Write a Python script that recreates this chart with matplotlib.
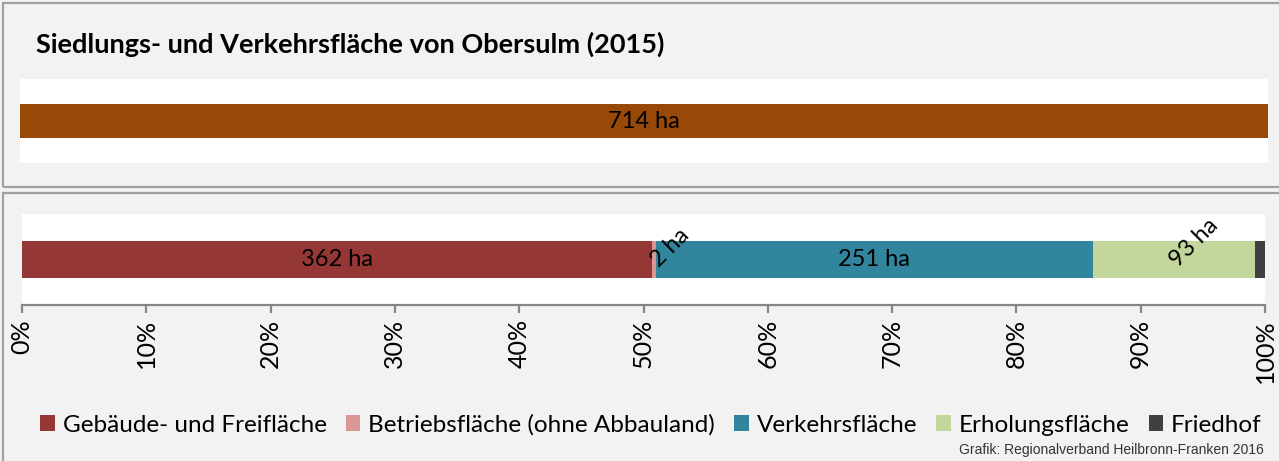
import matplotlib
matplotlib.use("Agg")
import matplotlib.pyplot as plt
from matplotlib.patches import Rectangle, Patch
import numpy as np

plt.rcParams['font.family'] = ['Lato', 'DejaVu Sans']

title = "Siedlungs- und Verkehrsfläche von Obersulm (2015)"
total_ha = 714
categories = ["Gebäude- und Freifläche", "Betriebsfläche (ohne Abbauland)",
              "Verkehrsfläche", "Erholungsfläche", "Friedhof"]
values_ha = [362, 2, 251, 93, 6]
colors = ["#953735", "#D99694", "#31859C", "#C3D69B", "#404040"]
label_shown = [True, True, True, True, False]
label_rotated = [False, True, False, True, False]
tick_values = [0, 10, 20, 30, 40, 50, 60, 70, 80, 90, 100]
tick_labels = [f"{v}%" for v in tick_values]
credit = "Grafik: Regionalverband Heilbronn-Franken 2016"

W, H = 1279, 461
fig = plt.figure(figsize=(W / 100, H / 100), dpi=100, facecolor="#f2f2f2")

def fx(x):
    return x / W

def fy(y):
    return 1 - y / H

def px_axes(l, t, r, b):
    return [fx(l), fy(b), (r - l) / W, (b - t) / H]

# panel borders
border_col = "#a0a0a0"
fig.add_artist(Rectangle((fx(3), fy(187)), fx(1285) - fx(3), fy(3) - fy(187),
                         transform=fig.transFigure, facecolor="none",
                         edgecolor=border_col, lw=1.6))
fig.add_artist(Rectangle((fx(3), fy(470)), fx(1285) - fx(3), fy(193) - fy(470),
                         transform=fig.transFigure, facecolor="none",
                         edgecolor=border_col, lw=1.6))

fig.text(fx(36), fy(44), title, fontsize=19.5, fontweight="bold",
         ha="left", va="center", color="#000000")

# top axis
ax1 = fig.add_axes(px_axes(20, 79, 1268, 163))
ax1.add_patch(Rectangle((0, 0), 1, 1, transform=ax1.transAxes,
                        facecolor="white", zorder=-1))
ax1.barh([0], [total_ha], height=34 / 84, color="#984807")
ax1.set_xlim(0, total_ha)
ax1.set_ylim(-0.5, 0.5)
ax1.text(total_ha / 2, 0, f"{total_ha} ha", ha="center", va="center",
         fontsize=17, color="#000000")
ax1.axis("off")

# bottom axis
ax2 = fig.add_axes(px_axes(22, 214, 1265, 305))
ax2.set_facecolor("white")
pct = np.array(values_ha) / total_ha * 100
left = 0.0
for v, p, c, show, rot in zip(values_ha, pct, colors, label_shown, label_rotated):
    ax2.barh([0], [p], left=left, height=37 / 91, color=c)
    mid = left + p / 2
    if show:
        if rot:
            ax2.text(mid, -0.04, f"{v} ha", rotation=45, rotation_mode="anchor",
                     ha="left", va="center", fontsize=17, color="#000000")
        else:
            ax2.text(mid, 0, f"{v} ha", ha="center", va="center",
                     fontsize=17, color="#000000")
    left += p
ax2.set_xlim(0, 100)
ax2.set_ylim(-0.5, 0.5)
ax2.set_yticks([])
for s in ["top", "left", "right"]:
    ax2.spines[s].set_visible(False)
ax2.spines["bottom"].set_color("#868686")
ax2.spines["bottom"].set_linewidth(1.6)
ax2.set_xticks(tick_values)
ax2.set_xticklabels(tick_labels)
ax2.tick_params(axis="x", direction="out", length=6, width=1.6, color="#868686",
                labelrotation=90, labelsize=18, labelcolor="#000000", pad=4)

handles = [Patch(facecolor=c, edgecolor="none") for c in colors]
fig.legend(handles, categories, loc="center", bbox_to_anchor=(fx(651), fy(425)),
           ncol=5, frameon=False, fontsize=17.5, handlelength=0.6, handleheight=0.6,
           handletextpad=0.33, columnspacing=0.78, borderaxespad=0)

fig.text(fx(1264), fy(450), credit, ha="right", va="center", fontsize=10,
         family=["Liberation Sans", "DejaVu Sans"], color="#333333")

fig.savefig("out.png", dpi=100, facecolor=fig.get_facecolor())
